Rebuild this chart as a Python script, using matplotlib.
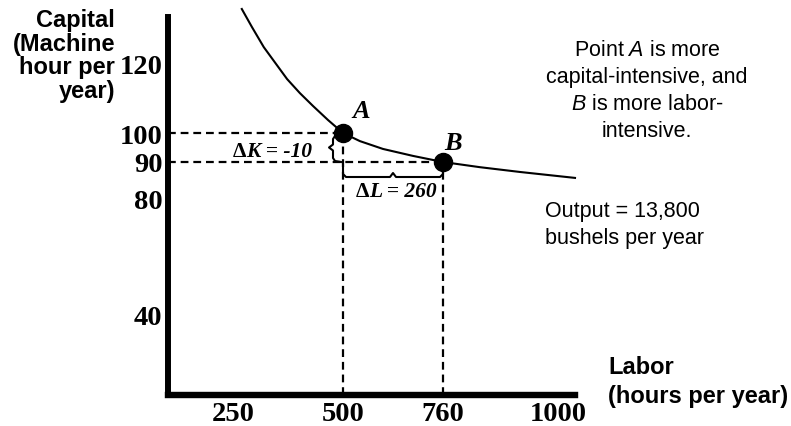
import numpy as np
import matplotlib
matplotlib.use('Agg')
import matplotlib.pyplot as plt
from matplotlib.transforms import IdentityTransform

plt.rcParams['mathtext.fontset'] = 'custom'
plt.rcParams['mathtext.rm'] = 'Liberation Sans'
plt.rcParams['mathtext.it'] = 'Liberation Sans:italic'

# isoquant (labor hours, machine hours)
labor = [270, 293, 320, 348, 373, 402, 432, 466, 500, 544, 604, 682, 760,
         837, 921, 1040]
capital = [135, 130, 124.4, 119.7, 115.4, 111.4, 107.7, 103.7, 100, 97.2,
           94.5, 92.1, 90, 88.6, 87.3, 85.7]

point_names = ['A', 'B']
point_labor = [500, 760]
point_capital = [100, 90]

x_ticks = [250, 500, 760, 1000]
y_ticks = [40, 80, 90, 100, 120]

# the drawing is schematic: tick values are not evenly spaced on screen,
# so use a piecewise linear scale (value -> pixel position)
x_vals = [-1000, 100, 250, 500, 760, 1000, 1040, 3000]
x_pos = [-316, 168, 233, 343, 443, 558, 575, 1408]
y_vals = [-100, 12, 40, 80, 90, 100, 120, 137, 300]
y_pos = [-289, 31, 111, 227, 264, 293, 363, 424.2, 1011]

W, H = 791, 427
fig = plt.figure(figsize=(W / 100, H / 100), dpi=100)
ax = fig.add_axes([168 / W, 31 / H, (575 - 168) / W, (424.2 - 31) / H])

ax.set_xscale('function', functions=(lambda v: np.interp(v, x_vals, x_pos),
                                     lambda p: np.interp(p, x_pos, x_vals)))
ax.set_yscale('function', functions=(lambda v: np.interp(v, y_vals, y_pos),
                                     lambda p: np.interp(p, y_pos, y_vals)))
ax.set_xlim(100, 1040)
ax.set_ylim(12, 137)

for s in ['top', 'right']:
    ax.spines[s].set_visible(False)
ax.spines['left'].set_linewidth(4.3)
ax.spines['bottom'].set_linewidth(4.6)
ax.spines['left'].set_bounds(12, 132.8)

tick_font = dict(family='Liberation Serif', weight='bold', size=20.5)
ax.set_xticks(x_ticks)
ax.set_xticklabels([str(t) for t in x_ticks], **tick_font)
ax.set_yticks(y_ticks)
ax.set_yticklabels([str(t) for t in y_ticks], **tick_font)
ax.tick_params(length=0)
ax.tick_params(axis='x', pad=4)
ax.tick_params(axis='y', pad=4)
ax.minorticks_off()

# isoquant and the two points
ax.plot(labor, capital, color='black', lw=1.5, clip_on=False)
ax.plot(point_labor, point_capital, 'o', ms=13, color='black', zorder=5,
        clip_on=False)

# dashed guides to the axes
x0, y0 = ax.get_xlim()[0], ax.get_ylim()[0]
for L, K in zip(point_labor, point_capital):
    ax.plot([x0, L], [K, K], color='black', lw=1.6, dashes=(3.5, 2.2))
    ax.plot([L, L], [y0, K], color='black', lw=1.6, dashes=(3.5, 2.2))

# point letters
for name, L, K, dx, dy in zip(point_names, point_labor, point_capital,
                              [18, 10], [22, 20]):
    ax.annotate(name, (L, K), xytext=(dx, dy), textcoords='offset pixels',
                ha='center', va='center', family='Liberation Serif',
                weight='bold', style='italic', size=19)

# braces, built in pixel space around the points
fig.canvas.draw()
xa, ya = ax.transData.transform((point_labor[0], point_capital[0]))
xb, yb = ax.transData.transform((point_labor[1], point_capital[1]))
ym = (ya + yb) / 2
bk_x = [xa - 2, xa - 8, xa - 10, xa - 10, xa - 14, xa - 10, xa - 10, xa - 8, xa - 2]
bk_y = [ya - 1, ya - 3, ya - 6, ym + 3, ym, ym - 3, yb + 4, yb + 1, yb]
ax.plot(bk_x, bk_y, color='black', lw=1.5, transform=IdentityTransform(),
        clip_on=False)
xm = (xa + xb) / 2
bl_x = [xa, xa, xa + 3, xm - 3, xm, xm + 3, xb - 3, xb, xb]
bl_y = [yb - 3, yb - 12, yb - 15, yb - 15, yb - 11, yb - 15, yb - 15, yb - 12, yb - 3]
ax.plot(bl_x, bl_y, color='black', lw=1.5, transform=IdentityTransform(),
        clip_on=False)


def px(x, y):
    return x / W, 1 - y / H


# change labels: upright delta, bold italic letters
delta_up = dict(family='Liberation Serif', weight='bold', size=15.5)
delta_it = dict(family='Liberation Serif', weight='bold', style='italic', size=15.5)
fig.text(*px(246, 152), 'Δ', ha='right', va='center', **delta_up)
fig.text(*px(246, 152), 'K = -10', ha='left', va='center', **delta_it)
fig.text(*px(369, 192), 'Δ', ha='right', va='center', **delta_up)
fig.text(*px(369, 192), 'L = 260', ha='left', va='center', **delta_it)

fig.text(*px(115, 56), 'Capital\n(Machine\nhour per\nyear)', ha='right',
         va='center', multialignment='right', family='Liberation Sans',
         weight='bold', size=17, linespacing=1.05)
fig.text(*px(608, 382), 'Labor\n(hours per year)', ha='left', va='center',
         family='Liberation Sans', weight='bold', size=17, linespacing=1.3)

fig.text(*px(647, 91), 'Point $\\mathit{A}$ is more\ncapital-intensive, and\n'
         '$\\mathit{B}$ is more labor-\nintensive.', ha='center', va='center',
         multialignment='center', family='Liberation Sans', size=15.5,
         linespacing=1.38)
fig.text(*px(545, 225), 'Output = 13,800\nbushels per year', ha='left',
         va='center', family='Liberation Sans', size=15.5, linespacing=1.35)

fig.savefig('out.png', dpi=100)
